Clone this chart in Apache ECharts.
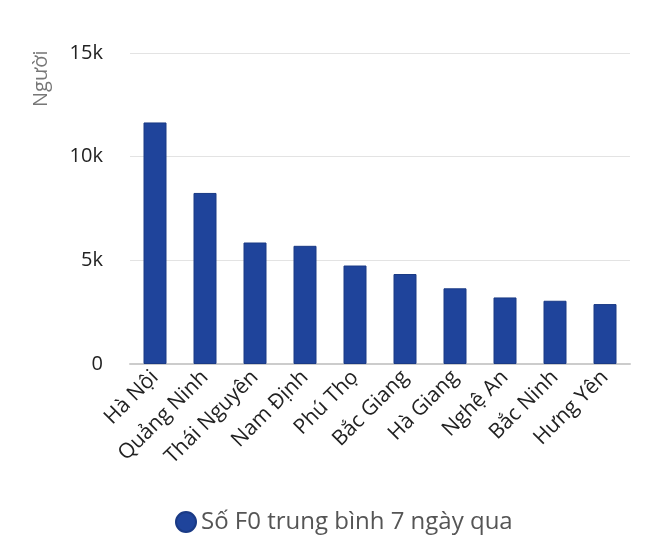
<!DOCTYPE html>
<html><head><meta charset="utf-8">
<script src="https://cdn.jsdelivr.net/npm/echarts@6/dist/echarts.min.js"></script>
<style>html,body{margin:0;padding:0;background:#fff}#c{width:660px;height:540px}</style>
</head><body><div id="c"></div>
<script>
var categories = ['Hà Nội','Quảng Ninh','Thái Nguyên','Nam Định','Phú Thọ','Bắc Giang','Hà Giang','Nghệ An','Bắc Ninh','Hưng Yên'];
var values = [11650, 8250, 5860, 5700, 4750, 4340, 3650, 3210, 3050, 2890];
var seriesName = 'Số F0 trung bình 7 ngày qua';
var yAxisTitle = 'Người';
var yTicks = [0, 5000, 10000, 15000];
var yTickLabels = ['0', '5k', '10k', '15k'];

var chart = echarts.init(document.getElementById('c'), null, {renderer:'canvas'});
var font = '"Open Sans", "Noto Sans", sans-serif';
chart.setOption({
  animation: false,
  textStyle: {fontFamily: font},
  grid: {left: 130, right: 30, top: 53, bottom: 176},
  legend: {
    data: [seriesName], bottom: 1, left: 170, icon: 'circle',
    itemWidth: 20, itemHeight: 20, itemGap: 8,
    textStyle: {fontSize: 24, color: '#555', fontFamily: font}
  },
  graphic: [{
    type: 'text', x: 31, y: 107, rotation: Math.PI/2,
    style: {text: yAxisTitle, fill: '#777', fontSize: 20, fontFamily: font, textAlign: 'left', textVerticalAlign: 'top'}
  }],
  xAxis: {
    type: 'category', data: categories,
    axisLine: {lineStyle: {color: '#ccc', width: 2}},
    axisTick: {show: false},
    axisLabel: {rotate: 45, fontSize: 21, color: '#222', margin: 10, interval: 0, fontFamily: font}
  },
  yAxis: {
    type: 'value', min: 0, max: 15000, interval: 5000,
    axisLine: {show: false}, axisTick: {show: false},
    splitLine: {lineStyle: {color: '#e3e3e3', width: 1}},
    axisLabel: {
      fontSize: 20, color: '#222', margin: 27, fontFamily: font,
      formatter: function(v){ var i = yTicks.indexOf(v); return i >= 0 ? yTickLabels[i] : ''; }
    }
  },
  series: [{
    name: seriesName, type: 'bar', data: values, barWidth: '46%',
    itemStyle: {color: '#1f449b', borderColor: '#1a3a85', borderWidth: 1}
  }]
});
</script></body></html>
